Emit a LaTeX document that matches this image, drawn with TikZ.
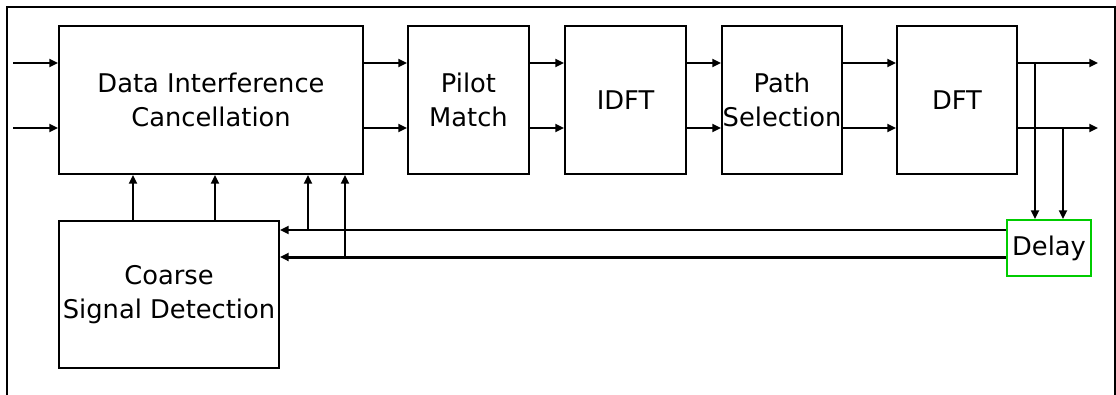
\documentclass[tikz,border=0pt]{standalone}
\usepackage{fontspec}
\setmainfont{DejaVu Sans}
\usetikzlibrary{arrows.meta}

\definecolor{delaygreen}{RGB}{0,204,0}
\tikzset{every picture/.style={line width=1.5pt}}
\tikzset{
  blockbox/.style 2 args={draw, rectangle, inner sep=0pt, align=center,
    minimum width=#1*0.75pt, minimum height=#2*0.75pt,
    font=\fontsize{19.3}{25.5}\selectfont},
  sig/.style={-{Triangle[length=6.5pt,width=6pt]}},
}

\begin{document}
\begin{tikzpicture}[x=0.75pt,y=0.75pt,yscale=-1,xscale=1]
\useasboundingbox (0,0) rectangle (1116,394);

%Shape: Frame
\draw (7,7) rectangle (1115,402);

%Shape: Rectangle [blocks]
\node[blockbox={304}{148}] (dic) at (211,100) {Data Interference\\Cancellation};
\node[blockbox={121}{148}] (pilot) at (468.5,100) {Pilot\\Match};
\node[blockbox={121}{148}] (idft) at (625.5,100) {IDFT};
\node[blockbox={120}{148}] (path) at (782,100) {Path\\Selection};
\node[blockbox={120}{148}] (dft) at (957,100) {DFT};
\node[blockbox={220}{147}] (coarse) at (169,294.5) {Coarse\\Signal Detection};
\node[blockbox={84}{56}, draw=delaygreen] (delay) at (1049,248) {Delay};

%Coordinates
\coordinate (inA) at (13,63);
\coordinate (inB) at (13,128);
\coordinate (outA) at (1098,63);
\coordinate (outB) at (1098,128);
\coordinate (tapA) at (1035,63);
\coordinate (tapB) at (1063,128);
\coordinate (fbA) at (308,230);
\coordinate (fbB) at (345,257);
\coordinate (upA) at (133,221);
\coordinate (upB) at (215,221);

%Straight Lines [inputs]
\draw[sig] (inA) -- (dic.west |- inA);
\draw[sig] (inB) -- (dic.west |- inB);
%Straight Lines [chain]
\draw[sig] (dic.east |- inA) -- (pilot.west |- inA);
\draw[sig] (dic.east |- inB) -- (pilot.west |- inB);
\draw[sig] (pilot.east |- inA) -- (idft.west |- inA);
\draw[sig] (pilot.east |- inB) -- (idft.west |- inB);
\draw[sig] (idft.east |- inA) -- (path.west |- inA);
\draw[sig] (idft.east |- inB) -- (path.west |- inB);
\draw[sig] (path.east |- inA) -- (dft.west |- inA);
\draw[sig] (path.east |- inB) -- (dft.west |- inB);
%Straight Lines [outputs]
\draw[sig] (dft.east |- outA) -- (outA);
\draw[sig] (dft.east |- outB) -- (outB);
\draw[sig] (tapA) -- (delay.north -| tapA);
\draw[sig] (tapB) -- (delay.north -| tapB);
%Straight Lines [feedback]
\draw[sig] (delay.west |- fbA) -- (coarse.east |- fbA);
\draw[sig, line width=2.25pt] (delay.west |- fbB) -- (coarse.east |- fbB);
\draw[sig] (fbA) -- (dic.south -| fbA);
\draw[sig] (fbB) -- (dic.south -| fbB);
\draw[sig] (coarse.north -| upA) -- (dic.south -| upA);
\draw[sig] (coarse.north -| upB) -- (dic.south -| upB);

\end{tikzpicture}
\end{document}
